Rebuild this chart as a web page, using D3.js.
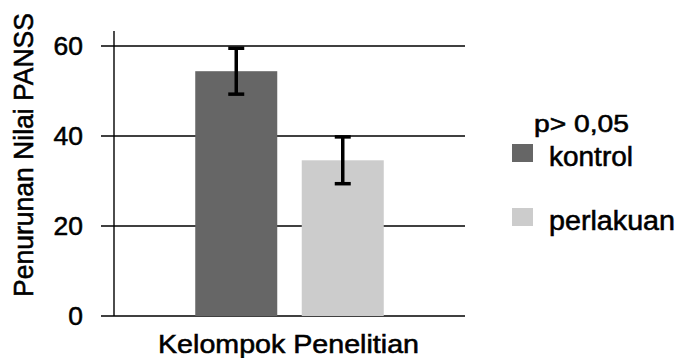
<!DOCTYPE html>
<html>
<head>
<meta charset="utf-8">
<script src="https://cdn.jsdelivr.net/npm/d3@7"></script>
<style>
  html, body { margin: 0; padding: 0; background: #fff; }
  svg { display: block; font-family: "Liberation Sans", Arial, sans-serif; }
  text { fill: #000; stroke: #000; stroke-width: 0.55px; }
</style>
</head>
<body>
<svg id="chart" width="677" height="358"></svg>
<script>
// ---- data ----
const categories = ["Kelompok Penelitian"];
const seriesNames = ["kontrol", "perlakuan"];
const seriesValues = [54.4, 34.6];
const seriesErrors = [5.1, 5.2];
const seriesColors = ["#666666", "#cccccc"];
const yTicks = [0, 20, 40, 60];
const yTitle = "Penurunan Nilai PANSS";
const legendTitle = "p> 0,05";

// ---- layout ----
const svg = d3.select("#chart");
const plotLeft = 114, plotRight = 465, plotTop = 46, plotBottom = 316;

const y = d3.scaleLinear().domain([0, 60]).range([plotBottom, plotTop]);
const x0 = d3.scaleBand().domain(categories).range([plotLeft, plotRight])
  .paddingInner(0).paddingOuter(0.431);
const x1 = d3.scaleBand().domain(seriesNames).range([0, x0.bandwidth()])
  .paddingInner(0.23).paddingOuter(0);

// gridlines + ticks
const grid = svg.append("g");
grid.selectAll("line").data(yTicks).join("line")
  .attr("x1", plotLeft - 13).attr("x2", plotRight)
  .attr("y1", d => y(d)).attr("y2", d => y(d))
  .attr("stroke", "#000").attr("stroke-width", 1.4);

// y axis line
svg.append("line")
  .attr("x1", plotLeft).attr("x2", plotLeft)
  .attr("y1", y(0)).attr("y2", y(60) - 15)
  .attr("stroke", "#000").attr("stroke-width", 1.4);

// tick labels
svg.append("g").selectAll("text").data(yTicks).join("text")
  .attr("x", 83).attr("y", d => y(d) + 9)
  .attr("text-anchor", "end")
  .attr("font-size", 26)
  .attr("textLength", d => String(d).length * 14.7)
  .attr("lengthAdjust", "spacingAndGlyphs")
  .text(d => d);

// bars
const rows = seriesNames.map((s, i) => ({ cat: categories[0], s, v: seriesValues[i], e: seriesErrors[i], c: seriesColors[i] }));
const g = svg.append("g");
g.selectAll("rect").data(rows).join("rect")
  .attr("x", d => x0(d.cat) + x1(d.s))
  .attr("y", d => y(d.v))
  .attr("width", x1.bandwidth())
  .attr("height", d => y(0) - y(d.v))
  .attr("fill", d => d.c);

// error bars
const capW = 16;
const eb = svg.append("g").attr("stroke", "#000").attr("stroke-width", 3.5);
rows.forEach(d => {
  const cx = x0(d.cat) + x1(d.s) + x1.bandwidth() / 2;
  eb.append("line").attr("x1", cx).attr("x2", cx).attr("y1", y(d.v + d.e)).attr("y2", y(d.v - d.e));
  eb.append("line").attr("x1", cx - capW / 2).attr("x2", cx + capW / 2).attr("y1", y(d.v + d.e)).attr("y2", y(d.v + d.e));
  eb.append("line").attr("x1", cx - capW / 2).attr("x2", cx + capW / 2).attr("y1", y(d.v - d.e)).attr("y2", y(d.v - d.e));
});

// axis titles
svg.append("text")
  .attr("transform", "translate(33,155) rotate(-90)")
  .attr("text-anchor", "middle")
  .attr("font-size", 27.5)
  .attr("textLength", 284)
  .attr("lengthAdjust", "spacingAndGlyphs")
  .text(yTitle);

svg.append("text")
  .attr("x", x0(categories[0]) + x0.bandwidth() / 2 - 1)
  .attr("y", 353)
  .attr("text-anchor", "middle")
  .attr("font-size", 26)
  .attr("textLength", 261)
  .attr("lengthAdjust", "spacingAndGlyphs")
  .text(categories[0]);

// legend
svg.append("text").attr("x", 534).attr("y", 132)
  .attr("font-size", 23)
  .attr("textLength", 95).attr("lengthAdjust", "spacingAndGlyphs")
  .text(legendTitle);

const legY = [144, 208];
const legW = [84, 126];
const leg = svg.append("g");
rows.forEach((d, i) => {
  leg.append("rect").attr("x", 512).attr("y", legY[i]).attr("width", 21).attr("height", 18).attr("fill", d.c);
  leg.append("text").attr("x", 549).attr("y", legY[i] + 22)
    .attr("font-size", 27)
    .attr("textLength", legW[i]).attr("lengthAdjust", "spacingAndGlyphs")
    .text(d.s);
});
</script>
</body>
</html>
